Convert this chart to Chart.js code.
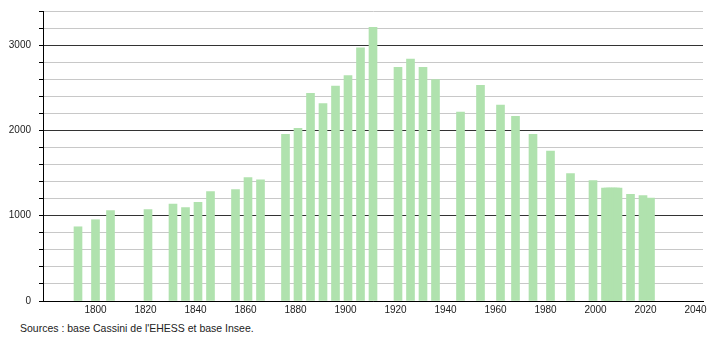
<!DOCTYPE html>
<html>
<head>
<meta charset="utf-8">
<script src="https://cdn.jsdelivr.net/npm/chart.js@4.4.1/dist/chart.umd.min.js"></script>
<style>
  html, body { margin:0; padding:0; background:#fff; overflow:hidden; }
  #wrap { position:relative; width:710px; height:340px; overflow:hidden; }
  #box  { position:absolute; left:0; top:-3px; width:710px; height:324px; }
  #src  { position:absolute; left:20px; top:322px; font:10.5px "Liberation Sans", Arial, sans-serif; color:#222; }
</style>
</head>
<body>
<div id="wrap">
  <div id="box"><canvas id="popChart"></canvas></div>
  <div id="src">Sources : base Cassini de l'EHESS et base Insee.</div>
</div>
<script>
'use strict';

// ── données
const years = [1793, 1800, 1806, 1821, 1831, 1836, 1841, 1846, 1856, 1861, 1866,
               1876, 1881, 1886, 1891, 1896, 1901, 1906, 1911, 1921, 1926, 1931, 1936,
               1946, 1954, 1962, 1968, 1975, 1982, 1990, 1999,
               2004, 2005, 2006, 2007, 2008, 2009, 2014, 2019, 2022];
const population = [870, 953, 1059, 1071, 1137, 1094, 1157, 1282, 1306, 1447, 1420,
                    1953, 2024, 2435, 2314, 2521, 2643, 2968, 3208, 2741, 2835, 2741, 2596,
                    2215, 2529, 2298, 2165, 1953, 1757, 1494, 1412,
                    1325, 1325, 1325, 1325, 1325, 1325, 1250, 1235, 1208];
const xTicks = [1800, 1820, 1840, 1860, 1880, 1900, 1920, 1940, 1960, 1980, 2000, 2020, 2040];

const FONT = { family:'"Liberation Sans", Arial, sans-serif', size:10 };
const BAR  = 'rgb(176,226,174)';

new Chart(document.getElementById('popChart'), {
  type:'bar',
  data:{ datasets:[{
    data: years.map((y, i) => ({ x:y, y:population[i] })),
    backgroundColor: BAR, borderWidth:0, barThickness:8
  }] },
  options:{
    responsive:true, maintainAspectRatio:false, animation:false, devicePixelRatio:1,
    layout:{ padding:{ top:6, right:7, left:0, bottom:0 } },
    plugins:{ legend:{ display:false }, tooltip:{ enabled:false } },
    scales:{
      x:{
        type:'linear', min:1779, max:2043, offset:false,
        afterBuildTicks: s => { s.ticks = xTicks.map(v => ({ value:v })); },
        afterFit: s => { s.height = 20; },
        grid:{ display:false, drawTicks:false },
        border:{ display:true, color:'#000', width:1 },
        ticks:{ font:FONT, color:'#222', padding:3, maxRotation:0, autoSkip:false, callback: v => String(v) }
      },
      y:{
        min:0, max:3400,
        afterFit: s => { s.width = 43; },
        grid:{
          color: c => (c.tick && c.tick.value % 1000 === 0) ? '#333' : '#c8c8c8',
          tickColor:'#000', tickLength:4, drawTicks:true
        },
        border:{ display:true, color:'#000', width:1 },
        ticks:{ stepSize:200, font:FONT, color:'#222', padding:8, autoSkip:false,
                callback: v => v % 1000 === 0 ? String(v) : '' }
      }
    }
  }
});
</script>
</body>
</html>
